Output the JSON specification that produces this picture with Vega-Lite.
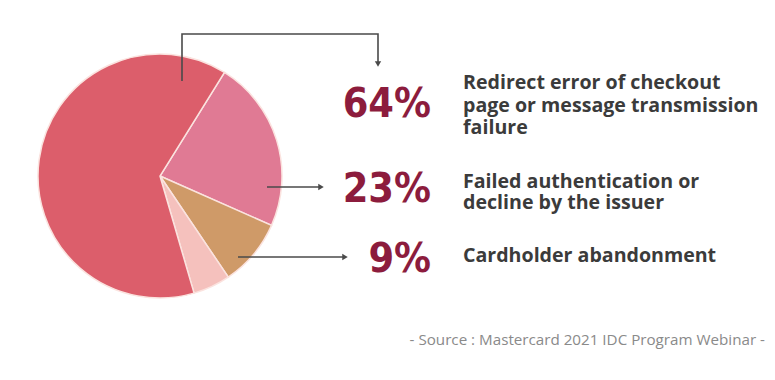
{
  "$schema": "https://vega.github.io/schema/vega-lite/v6.json",
  "width": 775,
  "height": 380,
  "padding": 0,
  "autosize": {"type": "none"},
  "background": "#ffffff",
  "config": {"view": {"stroke": null}, "axis": {"disable": true}},
  "datasets": {
    "slices": [
      {"cause": "Failed authentication or decline by the issuer", "pct": 23, "rank": 1},
      {"cause": "Cardholder abandonment", "pct": 9, "rank": 2},
      {"cause": "Other", "pct": 5, "rank": 3},
      {"cause": "Redirect error of checkout page or message transmission failure", "pct": 64, "rank": 4}
    ],
    "connectors": [
      {"id": "a", "seq": 0, "x": 182, "y": 81},
      {"id": "a", "seq": 1, "x": 182, "y": 34},
      {"id": "a", "seq": 2, "x": 378, "y": 34},
      {"id": "a", "seq": 3, "x": 378, "y": 62},
      {"id": "b", "seq": 0, "x": 267, "y": 187},
      {"id": "b", "seq": 1, "x": 320, "y": 187},
      {"id": "c", "seq": 0, "x": 238, "y": 257},
      {"id": "c", "seq": 1, "x": 344, "y": 257}
    ],
    "heads": [
      {"x": 378, "y": 64, "shape": "triangle-down"},
      {"x": 321, "y": 187, "shape": "triangle-right"},
      {"x": 345, "y": 257, "shape": "triangle-right"}
    ],
    "pcts": [
      {"label": "64%", "x": 431, "y": 117},
      {"label": "23%", "x": 431, "y": 202},
      {"label": "9%", "x": 431, "y": 272}
    ],
    "lines": [
      {"text": "Redirect error of checkout", "x": 463, "y": 89},
      {"text": "page or message transmission", "x": 463, "y": 112},
      {"text": "failure", "x": 463, "y": 134},
      {"text": "Failed authentication or", "x": 463, "y": 188},
      {"text": "decline by the issuer", "x": 463, "y": 209},
      {"text": "Cardholder abandonment", "x": 463, "y": 262}
    ],
    "source": [
      {"text": "- Source : Mastercard 2021 IDC Program Webinar -", "x": 765, "y": 345}
    ]
  },
  "layer": [
    {
      "data": {"name": "slices"},
      "mark": {"type": "arc", "outerRadius": 122, "stroke": "#fbe3df", "strokeWidth": 1.5},
      "encoding": {
        "x": {"datum": 160, "type": "quantitative", "scale": {"domain": [0, 775], "nice": false, "zero": false}, "axis": null},
        "y": {"datum": 176, "type": "quantitative", "scale": {"domain": [0, 380], "reverse": true, "nice": false, "zero": false}, "axis": null},
        "theta": {"field": "pct", "type": "quantitative", "stack": true, "scale": {"range": [0.557, 6.840]}},
        "order": {"field": "rank", "type": "quantitative"},
        "color": {
          "field": "rank", "type": "nominal", "legend": null,
          "scale": {"domain": [1, 2, 3, 4], "range": ["#e07a94", "#cf9a68", "#f5c1bd", "#dc5e6b"]}
        }
      }
    },
    {
      "data": {"name": "connectors"},
      "mark": {"type": "line", "color": "#4a4a4a", "strokeWidth": 1.6},
      "encoding": {
        "x": {"field": "x", "type": "quantitative", "axis": null},
        "y": {"field": "y", "type": "quantitative", "axis": null},
        "detail": {"field": "id"},
        "order": {"field": "seq"}
      }
    },
    {
      "data": {"name": "heads"},
      "mark": {"type": "point", "filled": true, "color": "#4a4a4a", "size": 40, "opacity": 1},
      "encoding": {
        "x": {"field": "x", "type": "quantitative", "axis": null},
        "y": {"field": "y", "type": "quantitative", "axis": null},
        "shape": {"field": "shape", "type": "nominal", "scale": null}
      }
    },
    {
      "data": {"name": "pcts"},
      "mark": {"type": "text", "align": "right", "baseline": "alphabetic", "font": "DejaVu Sans Condensed", "fontWeight": "bold", "fontSize": 41, "color": "#8c1c3d"},
      "encoding": {
        "x": {"field": "x", "type": "quantitative", "axis": null},
        "y": {"field": "y", "type": "quantitative", "axis": null},
        "text": {"field": "label"}
      }
    },
    {
      "data": {"name": "lines"},
      "mark": {"type": "text", "align": "left", "baseline": "alphabetic", "font": "Open Sans", "fontWeight": "bold", "fontSize": 19.6, "color": "#3b3b3b"},
      "encoding": {
        "x": {"field": "x", "type": "quantitative", "axis": null},
        "y": {"field": "y", "type": "quantitative", "axis": null},
        "text": {"field": "text"}
      }
    },
    {
      "data": {"name": "source"},
      "mark": {"type": "text", "align": "right", "baseline": "alphabetic", "font": "Open Sans", "fontSize": 15.2, "color": "#8a8a8a"},
      "encoding": {
        "x": {"field": "x", "type": "quantitative", "axis": null},
        "y": {"field": "y", "type": "quantitative", "axis": null},
        "text": {"field": "text"}
      }
    }
  ]
}
